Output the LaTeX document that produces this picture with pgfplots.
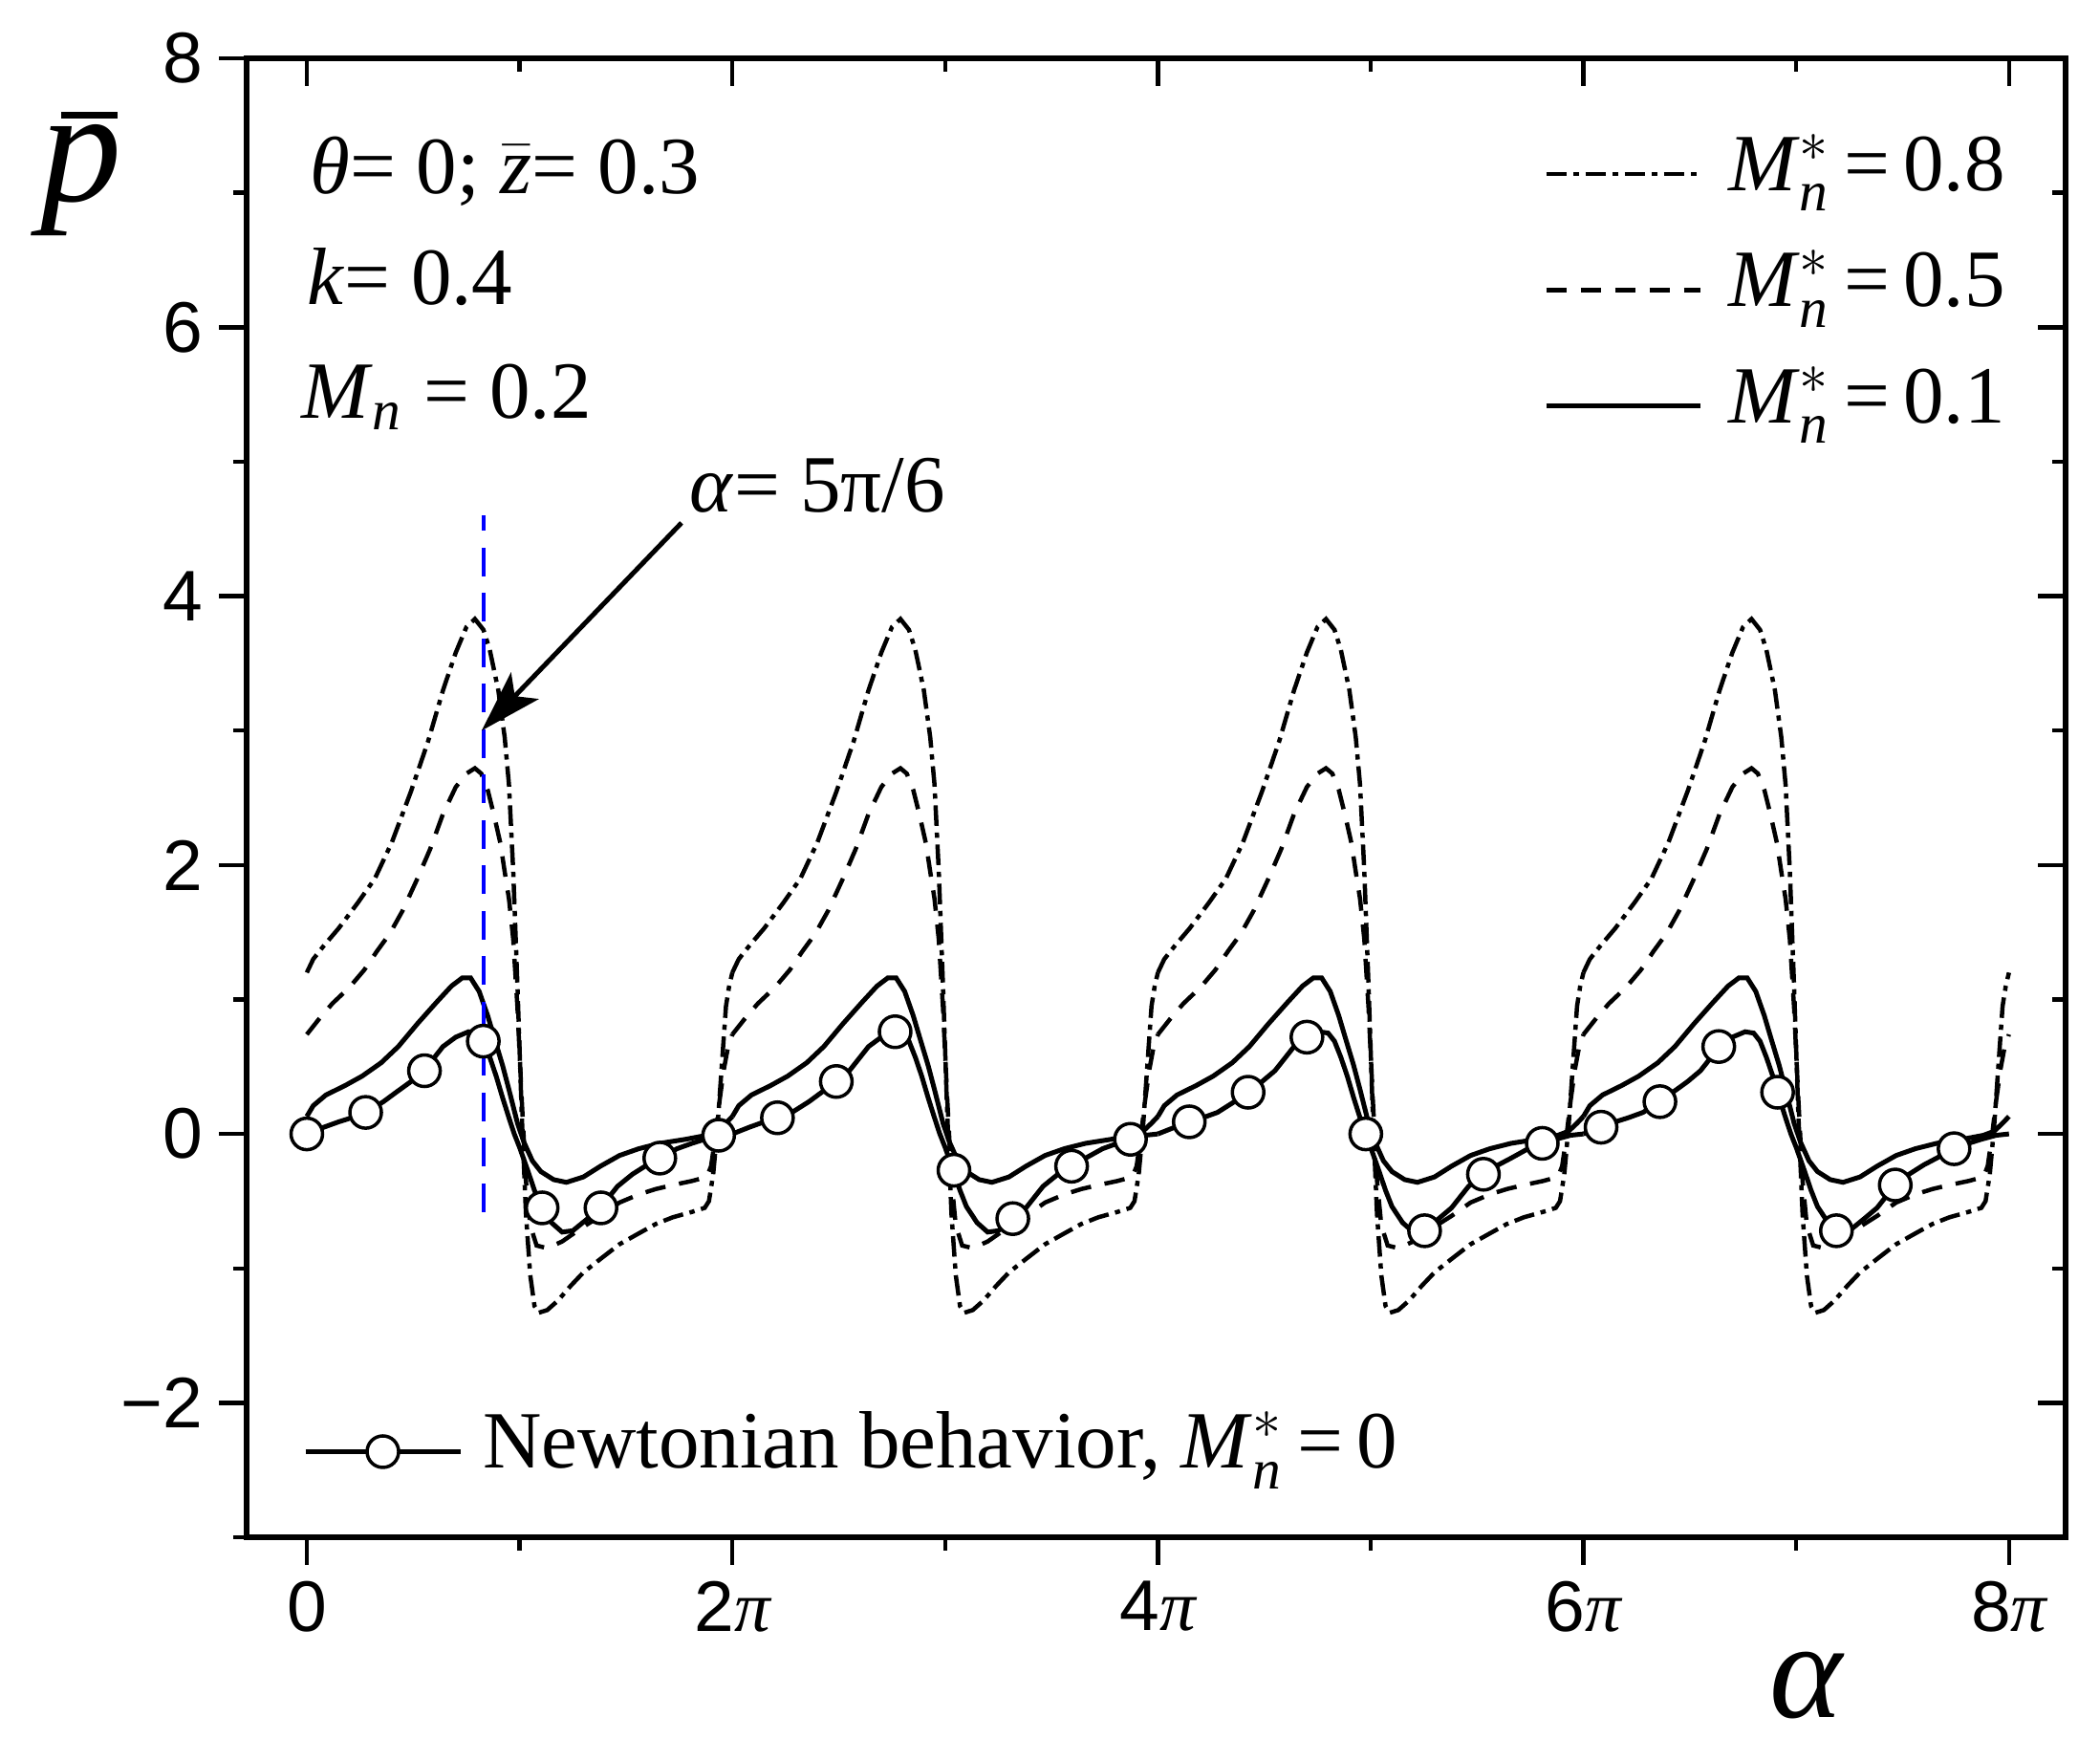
\documentclass[border=0pt]{standalone}
\usepackage{amsmath}
\usepackage{fontspec}
\setmainfont{Liberation Serif}
\newfontfamily\arial{Liberation Sans}
\usepackage{pgfplots}
\pgfplotsset{compat=1.18}
\usepackage{pgfplotstable}
\usetikzlibrary{arrows.meta}

\newcommand{\PI}{{\rmfamily\itshape π}}
\newcommand{\Mstar}{\textit{M}$^{*}_{\text{\itshape n}}$}

% M*_n = 0.8 (one period, phase in units of pi)
\pgfplotstableread{
phi p
0.00 1.20
0.03 1.30
0.08 1.40
0.15 1.53
0.24 1.72
0.32 1.90
0.40 2.17
0.49 2.55
0.57 2.92
0.64 3.30
0.70 3.58
0.75 3.77
0.79 3.83
0.83 3.75
0.86 3.60
0.90 3.30
0.93 2.95
0.95 2.60
0.97 1.96
0.99 1.10
1.01 0.15
1.03 -0.60
1.05 -1.05
1.07 -1.28
1.09 -1.33
1.13 -1.31
1.18 -1.24
1.24 -1.13
1.30 -1.03
1.38 -0.93
1.47 -0.82
1.56 -0.74
1.64 -0.67
1.72 -0.62
1.81 -0.58
1.87 -0.55
1.89 -0.50
1.91 -0.30
1.93 0.05
1.95 0.50
1.97 0.95
1.985 1.10
2.00 1.20
}\tabDD

% M*_n = 0.5
\pgfplotstableread{
phi p
0.00 0.74
0.06 0.86
0.12 0.97
0.20 1.09
0.27 1.22
0.33 1.36
0.39 1.49
0.45 1.66
0.52 1.90
0.58 2.12
0.64 2.38
0.70 2.58
0.75 2.68
0.79 2.72
0.82 2.68
0.85 2.56
0.88 2.37
0.91 2.16
0.93 1.95
0.95 1.75
0.97 1.45
0.99 0.94
1.01 0.26
1.03 -0.35
1.05 -0.68
1.08 -0.83
1.13 -0.85
1.20 -0.80
1.30 -0.69
1.38 -0.61
1.47 -0.51
1.56 -0.45
1.64 -0.41
1.72 -0.38
1.81 -0.35
1.88 -0.32
1.90 -0.24
1.92 -0.02
1.94 0.25
1.96 0.48
1.98 0.65
2.00 0.74
}\tabDS

% M*_n = 0.1
\pgfplotstableread{
phi p
0.00 0.13
0.03 0.21
0.09 0.29
0.18 0.36
0.26 0.43
0.35 0.53
0.43 0.65
0.52 0.82
0.61 0.98
0.68 1.10
0.73 1.16
0.77 1.16
0.81 1.06
0.85 0.88
0.88 0.72
0.92 0.51
0.95 0.33
0.99 0.08
1.02 -0.06
1.06 -0.20
1.10 -0.28
1.16 -0.34
1.22 -0.36
1.30 -0.32
1.38 -0.24
1.47 -0.16
1.56 -0.11
1.66 -0.07
1.78 -0.04
1.88 -0.01
1.93 0.02
1.97 0.08
2.00 0.13
}\tabS

% Newtonian, M*_n = 0
\pgfplotstableread{
phi p
0.00 0.00
0.08 0.05
0.15 0.09
0.21 0.12
0.28 0.16
0.36 0.24
0.42 0.31
0.49 0.39
0.55 0.47
0.60 0.57
0.64 0.65
0.70 0.72
0.76 0.76
0.80 0.75
0.83 0.69
0.86 0.57
0.89 0.43
0.92 0.27
0.95 0.12
0.975 0.00
1.00 -0.10
1.04 -0.28
1.07 -0.42
1.10 -0.54
1.15 -0.66
1.20 -0.73
1.25 -0.72
1.32 -0.63
1.38 -0.55
1.46 -0.39
1.53 -0.30
1.60 -0.23
1.66 -0.18
1.74 -0.11
1.81 -0.07
1.87 -0.04
1.94 -0.01
2.00 0.00
}\tabN

% Newtonian markers
\pgfplotstableread{
a p
0.0000 0.00
0.2765 0.16
0.5530 0.47
0.8295 0.69
1.1060 -0.55
1.3825 -0.55
1.6590 -0.18
1.9355 -0.01
2.2120 0.12
2.4885 0.39
2.7650 0.76
3.0415 -0.27
3.3180 -0.63
3.5945 -0.24
3.8710 -0.04
4.1475 0.09
4.4240 0.31
4.7005 0.72
4.9770 0.00
5.2535 -0.72
5.5300 -0.30
5.8065 -0.07
6.0830 0.05
6.3595 0.24
6.6360 0.65
6.9125 0.31
7.1890 -0.72
7.4655 -0.38
7.7420 -0.11
}\tabM

\pgfplotsset{
  ddot/.style={black, line width=0.9pt, dash pattern=on 4.3pt off 1.4pt on 1.1pt off 1.4pt},
  dsh/.style={black, line width=0.9pt, dash pattern=on 4.3pt off 2.9pt},
  sld/.style={black, line width=1pt},
  newt/.style={black, line width=1pt},
  baseaxis/.style={
    width=380.6pt, height=309.4pt, scale only axis,
    xmin=-0.283, xmax=8.266, ymin=-3, ymax=8,
    xtick={0,2,4,6,8}, minor xtick={1,3,5,7},
    ytick={-2,0,2,4,6,8}, minor ytick={-3,-1,1,3,5,7},
    major tick length=5.7pt, minor tick length=2.8pt,
    tick style={black, line width=0.9pt},
    axis line style={line width=1.3pt},
  },
}

\begin{document}
\begin{tikzpicture}
\useasboundingbox (-51.6pt,-46.4pt) rectangle (387.8pt,321.6pt);
\begin{axis}[
  baseaxis,
  xtick pos=left, ytick pos=left,
  tick align=outside,
  xticklabels={0, 2\PI, 4\PI, 6\PI, 8\PI},
  yticklabels={−2,0,2,4,6,8},
  tick label style={font=\arial\fontsize{15}{18}\selectfont},
  xlabel={\fontsize{29}{32}\selectfont\itshape α},
  xlabel style={at={(axis description cs:0.8576,-0.1005)}, anchor=center, inner sep=0pt},
  ylabel={\fontsize{34}{36}\selectfont\itshape p\hspace{-12.6pt}\rule[17.4pt]{11.8pt}{1.4pt}\hspace{0.8pt}},
  ylabel style={at={(axis description cs:-0.092,0.922)}, anchor=center, rotate=-90, inner sep=0pt},
  legend image code/.code={\draw[#1] (0pt,0pt) -- (32.2pt,0pt);},
  legend style={draw=none, fill=none, inner sep=0pt, row sep=7.3pt, column sep=5.4pt,
    at={(axis description cs:0.7126,0.9500)}, anchor=north west,
    font=\fontsize{17}{20}\selectfont,
    nodes={inner sep=0pt, text height=12pt, text depth=5pt}},
  legend cell align=left,
]
\pgfplotsinvokeforeach{0,2,4,6}{
  \addplot[sld, forget plot] table[x expr=\thisrow{phi}+#1, y=p] {\tabS};
  \addplot[dsh, forget plot] table[x expr=\thisrow{phi}+#1, y=p] {\tabDS};
  \addplot[ddot, forget plot] table[x expr=\thisrow{phi}+#1, y=p] {\tabDD};
  \addplot[newt, forget plot] table[x expr=\thisrow{phi}+#1, y=p] {\tabN};
}
\addplot[only marks, mark=*, mark size=3.3pt, mark options={fill=white, draw=black, line width=0.7pt}, forget plot] table[x=a, y=p] {\tabM};
\addplot[blue, line width=0.8pt, dash pattern=on 6pt off 3.5pt, forget plot] coordinates {(0.8333,-0.58) (0.8333,4.6)};
\draw[black, line width=1pt, -{Stealth[length=13pt, width=8pt, inset=3pt]}] (axis cs:1.761,4.545) -- (axis cs:0.822,3.0);
\addlegendimage{ddot}
\addlegendentry{\Mstar\,=\,0.8}
\addlegendimage{dsh}
\addlegendentry{\Mstar\,=\,0.5}
\addlegendimage{sld}
\addlegendentry{\Mstar\,=\,0.1}
\end{axis}
\begin{axis}[
  baseaxis,
  xtick pos=right, ytick pos=right,
  tick align=inside,
  xticklabels={}, yticklabels={},
  legend image code/.code={\draw[mark repeat=2, mark phase=2, #1] plot coordinates {(0pt,0pt) (16.2pt,0pt) (32.4pt,0pt)};},
  legend style={draw=none, fill=none, inner sep=0pt, column sep=4.2pt,
    at={(axis description cs:0.0305,0.0860)}, anchor=north west,
    font=\fontsize{17}{20}\selectfont,
    nodes={inner sep=0pt, text height=12pt, text depth=5pt}},
]
\addlegendimage{newt, mark=*, mark size=3.3pt, mark options={fill=white, draw=black, line width=0.7pt, solid}}
\addlegendentry{Newtonian behavior, \Mstar\,=\,0}
\end{axis}
\node[anchor=base west, inner sep=0pt, font=\fontsize{17}{20}\selectfont] at (13.2pt,281.2pt) {\textit{θ}= 0; $\bar{\text{\itshape z}}$= 0.3};
\node[anchor=base west, inner sep=0pt, font=\fontsize{17}{20}\selectfont] at (12.6pt,258.0pt) {\textit{k}= 0.4};
\node[anchor=base west, inner sep=0pt, font=\fontsize{17}{20}\selectfont] at (11.2pt,234.2pt) {\textit{M}$_{\text{\itshape n}}$ = 0.2};
\node[anchor=base west, inner sep=0pt, font=\fontsize{17}{20}\selectfont] at (92.6pt,214.6pt) {\textit{α}= 5π/6};
\end{tikzpicture}
\end{document}
